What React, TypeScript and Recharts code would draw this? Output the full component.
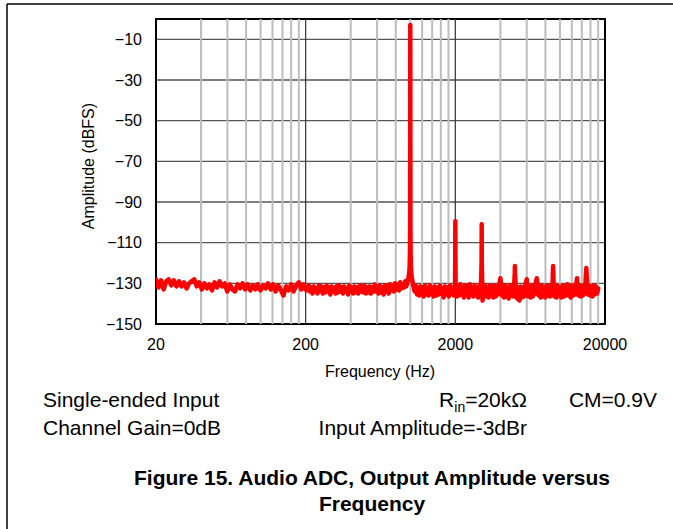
import {
  CartesianGrid,
  Line,
  LineChart,
  ReferenceArea,
  ReferenceLine,
  XAxis,
  YAxis,
} from "recharts";

// x ticks / grid (Hz)
const freqTicks = [20, 200, 2000, 20000];
const majorGridHz = [200, 2000];
const minorGridHz = [
  40, 60, 80, 100, 120, 140, 160, 180,
  400, 600, 800, 1000, 1200, 1400, 1600, 1800,
  4000, 6000, 8000, 10000, 12000, 14000, 16000, 18000,
];
const ampTicks = [-150, -130, -110, -90, -70, -50, -30, -10];

// FFT trace: [Hz, dBFS]
const lowBand: [number, number][] = [
  [20, -128], [20.8, -132], [21.6, -128.5], [22.5, -133], [23.4, -129],
  [24.3, -128], [25.3, -131], [26.3, -128.5], [27.4, -131.5], [28.5, -129],
  [29.6, -131.5], [30.8, -129.5], [32, -132.5], [33.3, -130], [34.6, -129],
  [36, -128], [37.4, -131.5], [38.9, -129.5], [40.5, -133], [42.1, -130],
  [43.8, -132.5], [45.5, -130.5], [47.3, -133.5], [49.2, -129.5], [51.2, -132],
  [53.2, -129], [55.4, -131.5], [57.6, -130], [59.9, -134], [62.3, -130.5],
  [64.8, -133], [67.4, -134], [70.1, -130.5], [72.9, -132.5], [75.8, -130],
  [78.8, -133], [82, -130.5], [85.3, -133.5], [88.7, -131], [92.2, -133],
  [95.9, -130.5], [99.7, -133.5], [104, -131], [108, -132.5], [112, -130],
  [117, -133], [121, -130.5], [126, -134], [131, -131], [137, -133.5],
  [142, -136], [148, -131.5], [154, -133.5], [160, -130.5], [166, -134],
  [173, -131], [180, -129.5], [187, -133], [194, -130.5], [202, -133.5],
];

const midBand: [number, number][] = [
  [210, -131], [214, -134], [218, -132], [222, -135], [227, -131.5],
  [231, -134], [236, -132.5], [240, -135], [245, -131], [250, -133.5],
  [255, -131.5], [260, -135], [265, -132], [270, -134.5], [276, -131],
  [281, -134], [287, -132], [292, -135.5], [298, -131.5], [304, -134],
  [310, -132], [316, -135], [322, -131.5], [329, -134.5], [335, -131],
  [342, -134], [348, -132], [355, -135], [362, -131.5], [369, -134],
  [376, -132.5], [384, -135.5], [391, -131], [399, -134], [407, -132],
  [415, -135], [423, -131.5], [432, -134.5], [440, -132], [449, -135],
  [458, -131], [467, -134], [476, -131.5], [486, -134.5], [495, -131],
  [505, -135], [515, -132], [525, -134.5], [535, -131.5], [546, -135],
  [557, -132], [568, -134], [579, -130.5], [591, -134], [602, -131.5],
  [614, -135], [626, -131], [639, -134.5], [651, -132], [664, -135.5],
  [677, -131], [691, -134], [704, -131.5], [718, -135], [732, -130.5],
  [747, -133.5], [761, -131], [777, -134], [792, -130], [808, -133],
  [823, -131], [840, -133.5], [856, -129.5], [873, -132.5], [890, -130.5],
  [908, -132], [925, -129], [940, -131.5], [955, -129.5], [970, -127.5],
  [982, -125.5], [990, -122], [995, -115], [998, -100],
  [1000, -3],
  [1002, -100], [1005, -115], [1010, -122], [1018, -126], [1030, -128.5],
  [1050, -131.5], [1070, -134], [1090, -131], [1110, -135.5], [1130, -132],
  [1150, -136], [1170, -131.5], [1190, -135.5], [1210, -132], [1230, -136.5],
  [1255, -131], [1280, -135.5], [1305, -132.5], [1330, -136], [1355, -131],
  [1380, -135], [1405, -132], [1430, -136.5], [1460, -131.5], [1490, -136],
  [1520, -132], [1550, -135.5], [1580, -131], [1610, -135], [1640, -132.5],
  [1670, -137], [1705, -131.5], [1740, -135.5], [1775, -132], [1810, -136.5],
  [1845, -131], [1880, -135], [1915, -132], [1950, -136], [1975, -131.5],
  [1990, -134],
];

const highBand: [number, number][] = [
  [1998, -115], [2000, -99.5], [2002, -115], [2010, -132], [2045, -136.5],
  [2080, -131], [2120, -136], [2160, -130.5], [2200, -135.5], [2240, -132],
  [2280, -137], [2320, -131], [2365, -136], [2410, -131.5], [2455, -137],
  [2500, -130.5], [2545, -135.5], [2590, -132], [2640, -136.5], [2690, -131],
  [2740, -136], [2790, -132], [2840, -137], [2890, -131], [2930, -136],
  [2965, -132], [2995, -120], [3000, -101], [3005, -120], [3040, -138.5],
  [3075, -131.5], [3110, -136], [3165, -131], [3220, -136.5], [3280, -132],
  [3340, -137], [3400, -131], [3460, -136], [3525, -131.5], [3590, -137],
  [3655, -131], [3720, -136.5], [3785, -132], [3850, -135.5], [3910, -130.5],
  [3960, -129.5], [4000, -127.5], [4040, -130.5], [4095, -136], [4150, -131.5],
  [4225, -137], [4300, -131], [4380, -136.5], [4460, -132], [4540, -137.5],
  [4620, -131], [4705, -136], [4790, -131.5], [4865, -136.5], [4940, -131.5],
  [4990, -125], [5000, -121.5], [5010, -125], [5080, -133], [5170, -137.5],
  [5260, -132], [5355, -138.5], [5450, -131.5], [5550, -137], [5650, -132],
  [5755, -136.5], [5860, -130.5], [5960, -129], [6000, -128], [6040, -131],
  [6145, -136.5], [6250, -131.5], [6365, -137], [6480, -131], [6600, -136.5],
  [6720, -132], [6820, -135], [6900, -129.5], [7000, -127.5], [7100, -130.5],
  [7200, -136], [7300, -131.5], [7430, -137], [7560, -131], [7700, -136.5],
  [7840, -132], [7980, -137], [8120, -131], [8270, -136], [8420, -131.5],
  [8570, -136.5], [8720, -131], [8840, -135], [8950, -128], [9000, -121.5],
  [9050, -128], [9175, -136.5], [9300, -131.5], [9475, -137], [9650, -131],
  [9825, -136], [10000, -132], [10200, -137], [10400, -131], [10600, -136.5],
  [10800, -131.5], [11000, -136], [11200, -130.5], [11400, -136], [11600, -131.5],
  [11800, -137], [12000, -131], [12250, -136], [12500, -131.5], [12700, -135.5],
  [12900, -129.5], [13000, -127.5], [13100, -130.5], [13300, -136], [13500, -131.5],
  [13750, -136.5], [14000, -131], [14250, -136], [14500, -131.5], [14700, -135],
  [14900, -126], [15000, -122.5], [15100, -127], [15350, -135.5], [15600, -131],
  [15900, -136], [16200, -131.5], [16500, -136.5], [16800, -131], [17100, -135.5],
  [17400, -131.5], [17700, -135], [18000, -132.5],
];

const trace = [...lowBand, ...midBand, ...highBand].map(([hz, db]) => ({ hz, db }));

const FONT = '"Liberation Sans", Arial, sans-serif';
const minus = (v: number) => String(v).replace("-", "\u2212");

const App = () => {
  return (
    <div
      style={{
        position: "fixed",
        left: 0,
        top: 0,
        width: 673,
        height: 529,
        background: "#fff",
        fontFamily: FONT,
        overflow: "hidden",
      }}
    >
      <LineChart
        width={673}
        height={529}
        data={trace}
        margin={{ top: 19, right: 68, bottom: 175, left: 96 }}
        style={{ fontFamily: FONT }}
      >
        <CartesianGrid vertical={false} stroke="#555" strokeWidth={1.3} />
        {minorGridHz.map((hz) => (
          <ReferenceLine key={hz} x={hz} stroke="#bdbdbd" strokeWidth={2} />
        ))}
        {majorGridHz.map((hz) => (
          <ReferenceLine key={hz} x={hz} stroke="#333" strokeWidth={1.2} />
        ))}
        <XAxis
          dataKey="hz"
          type="number"
          scale="log"
          domain={[20, 20000]}
          ticks={freqTicks}
          allowDataOverflow
          axisLine={false}
          tickLine={false}
          tickSize={8}
          tickMargin={7}
          height={30}
          interval={0}
          tick={{ fill: "#000", fontSize: 16 }}
        />
        <YAxis
          type="number"
          domain={[-150, 0]}
          ticks={ampTicks}
          allowDataOverflow
          axisLine={false}
          tickLine={false}
          tickSize={8}
          tickMargin={6}
          width={60}
          interval={0}
          tickFormatter={minus}
          tick={{ fill: "#000", fontSize: 16 }}
        />
        <Line
          type="linear"
          dataKey="db"
          stroke="#ff0000"
          strokeWidth={4.5}
          strokeLinejoin="round"
          strokeLinecap="round"
          dot={false}
          activeDot={false}
          isAnimationActive={false}
        />
        <ReferenceArea
          x1={20}
          x2={20000}
          y1={-150}
          y2={0}
          fill="none"
          stroke="#000"
          strokeWidth={2}
          ifOverflow="visible"
        />
      </LineChart>

      <svg
        width={673}
        height={529}
        style={{ position: "absolute", left: 0, top: 0, pointerEvents: "none" }}
        fontFamily={FONT}
      >
        <line x1={7} y1={4} x2={673} y2={4} stroke="#000" strokeWidth={1.5} />
        <line x1={7} y1={4} x2={7} y2={529} stroke="#000" strokeWidth={1.5} />

        <text x={380} y={377} fontSize={16} textAnchor="middle" fill="#000">
          Frequency (Hz)
        </text>
        <text
          x={94}
          y={166}
          fontSize={16}
          textAnchor="middle"
          fill="#000"
          transform="rotate(-90 94 166)"
        >
          Amplitude (dBFS)
        </text>

        <text x={43} y={407} fontSize={21} fill="#000">
          Single-ended Input
        </text>
        <text x={527} y={407} fontSize={21} fill="#000" textAnchor="end">
          R
          <tspan fontSize={14} dy={5}>
            in
          </tspan>
          <tspan dy={-5}>=20kΩ</tspan>
        </text>
        <text x={657} y={407} fontSize={21} fill="#000" textAnchor="end">
          CM=0.9V
        </text>
        <text x={43} y={435} fontSize={21} fill="#000">
          Channel Gain=0dB
        </text>
        <text x={527} y={435} fontSize={21} fill="#000" textAnchor="end">
          Input Amplitude=-3dBr
        </text>

        <text x={372} y={485} fontSize={21} fontWeight="bold" fill="#000" textAnchor="middle">
          Figure 15. Audio ADC, Output Amplitude versus
        </text>
        <text x={372} y={511} fontSize={21} fontWeight="bold" fill="#000" textAnchor="middle">
          Frequency
        </text>
      </svg>
    </div>
  );
};

export default App;
